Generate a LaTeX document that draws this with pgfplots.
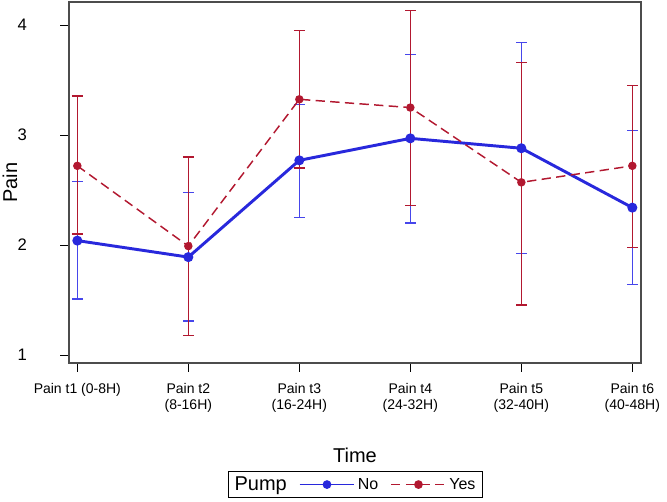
\documentclass[border=0pt]{standalone}
\usepackage{fontspec}
\setmainfont{Liberation Sans}
\usepackage{pgfplots}
\pgfplotsset{compat=1.18}
\usepackage{pgfplotstable}

\definecolor{cno}{RGB}{40,40,220}
\definecolor{cnobar}{RGB}{70,70,235}
\definecolor{cyes}{RGB}{178,24,48}

% mean, lower and upper limit per time point
\pgfplotstableread{
x y lo hi
0 2.04 1.51 2.575
1 1.89 1.31 2.475
2 2.77 2.25 3.28
3 2.97 2.20 3.73
4 2.88 1.92 3.84
5 2.34 1.64 3.04
}\nodata
\pgfplotstableread{
x y lo hi
0 2.72 2.10 3.355
1 1.99 1.175 2.80
2 3.325 2.70 3.95
3 3.25 2.36 4.13
4 2.57 1.455 3.66
5 2.72 1.975 3.45
}\yesdata

\begin{document}
\begin{tikzpicture}
\begin{axis}[name=ax,
  scale only axis, width=429pt, height=270.75pt,
  xmin=-0.075, xmax=5.078, ymin=0.927, ymax=4.21,
  xtick={0,1,2,3,4,5},
  xticklabels={Pain t1 (0-8H), {Pain t2\\(8-16H)}, {Pain t3\\(16-24H)},
    {Pain t4\\(24-32H)}, {Pain t5\\(32-40H)}, {Pain t6\\(40-48H)}},
  xticklabel style={align=center, anchor=north, yshift=-5pt,
    font=\fontsize{10.5}{12}\selectfont},
  ytick={1,2,3,4},
  yticklabels={1,2,3,4},
  yticklabel style={anchor=east, xshift=-21.5pt, font=\fontsize{12.5}{14}\selectfont},
  tick align=outside, xtick pos=bottom, ytick pos=left,
  major tick length=6.5pt,
  tick style={black, line width=0.7pt},
  axis line style={black!70, line width=0.8pt},
  xlabel={Time}, ylabel={Pain},
  label style={font=\fontsize{15}{18}\selectfont},
  xlabel style={at={(axis description cs:0.5,-0.255)}, anchor=center},
  ylabel style={at={(axis description cs:-0.103,0.5)}, anchor=center},
  legend columns=-1,
  legend style={at={(axis description cs:0.5,-0.299)}, anchor=north,
    draw=black, line width=0.6pt, font=\fontsize{12}{14}\selectfont,
    /tikz/every even column/.append style={column sep=7pt}},
  legend image code/.code={\draw[mark repeat=2,mark phase=2,line width=1.3pt]
    plot coordinates {(0cm,0cm) (0.72cm,0cm) (1.44cm,0cm)};},
]
\addlegendimage{empty legend}
\addlegendentry{\fontsize{15}{18}\selectfont Pump}

% error bars
\addplot[forget plot, cnobar, only marks, mark=none,
  error bars/.cd, y dir=both, y explicit,
  error bar style={line width=1pt, solid},
  error mark options={rotate=90, mark size=4pt, line width=1pt}]
  table[x=x, y=y, y error plus expr=\thisrow{hi}-\thisrow{y},
        y error minus expr=\thisrow{y}-\thisrow{lo}] {\nodata};
\addplot[forget plot, cyes, only marks, mark=none,
  error bars/.cd, y dir=both, y explicit,
  error bar style={line width=1pt, solid},
  error mark options={rotate=90, mark size=4pt, line width=1pt}]
  table[x=x, y=y, y error plus expr=\thisrow{hi}-\thisrow{y},
        y error minus expr=\thisrow{y}-\thisrow{lo}] {\yesdata};

% means
\addplot[cno, line width=2.2pt, mark=*, mark size=2.6pt, mark options={solid}]
  table[x=x, y=y] {\nodata};
\addlegendentry{No}
\addplot[cyes, line width=1.1pt, dash pattern=on 7pt off 4pt, mark=*, mark size=2.6pt,
  mark options={solid}]
  table[x=x, y=y] {\yesdata};
\addlegendentry{Yes}
\end{axis}
\pgfresetboundingbox
\path ([shift={(-51.75pt,-103.5pt)}]ax.south west)
  rectangle ([shift={(448.5pt,272.25pt)}]ax.south west);
\end{tikzpicture}
\end{document}
